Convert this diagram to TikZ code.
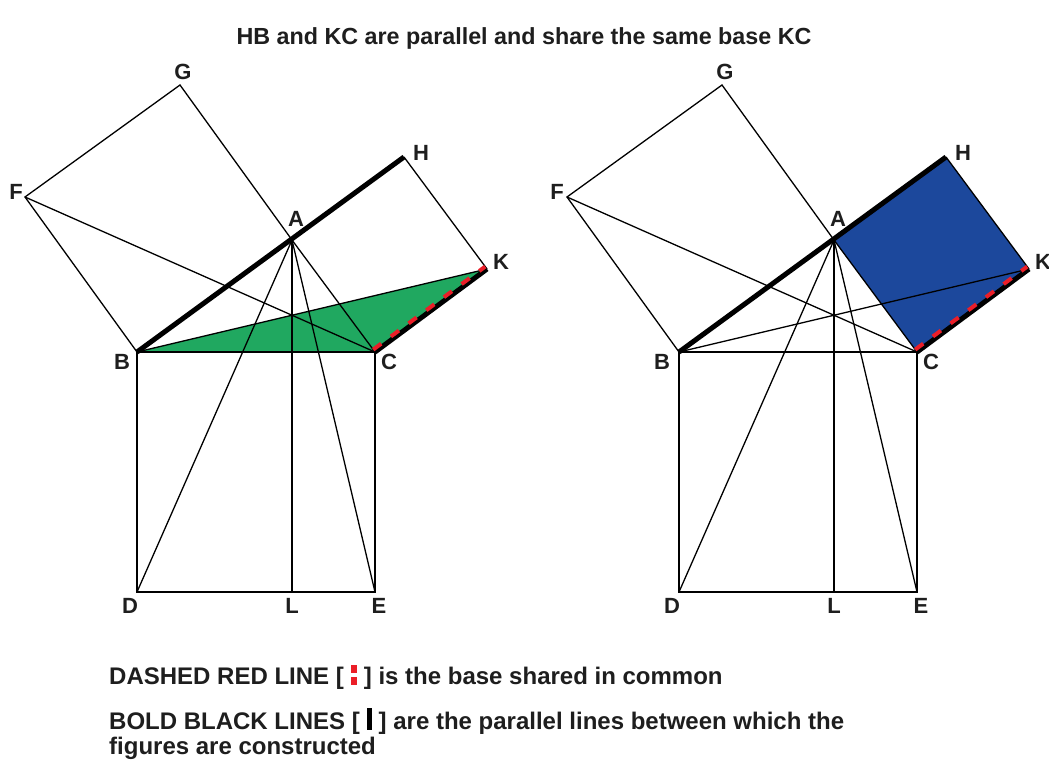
\documentclass[tikz,border=0pt]{standalone}
\usepackage{fontspec}
\setmainfont{Liberation Sans}
\usetikzlibrary{calc}
\definecolor{tgreen}{RGB}{32,168,96}
\definecolor{tblue}{RGB}{28,72,156}
\definecolor{tred}{RGB}{235,30,40}
\definecolor{ttext}{RGB}{30,30,30}
\begin{document}
\begin{tikzpicture}[x=1pt,y=-1pt,
  thin line/.style={line width=1.3pt,draw=black},
  bold line/.style={line width=5pt,draw=black,line cap=butt},
  red dash/.style={line width=4pt,draw=tred,dash pattern=on 10pt off 12pt},
  lbl/.style={font=\bfseries\fontsize{22}{24}\selectfont,text=ttext,inner sep=0pt},
  note/.style={font=\bfseries\fontsize{24}{25}\selectfont,text=ttext,inner sep=0pt,anchor=west,align=left}]
\useasboundingbox (0,0) rectangle (1049,768);
\fill[white] (0,0) rectangle (1049,768);

\node[font=\bfseries\fontsize{23.3}{26}\selectfont,text=ttext] (title) at (524,38) {HB and KC are parallel and share the same base KC};

% ---------- left figure ----------
\begin{scope}
\coordinate (B1) at (137,352);
\coordinate (C1) at (375,352);
\coordinate (A1) at (292,240);
\coordinate (D1) at (137,592);
\coordinate (E1) at (375,592);
\coordinate (L1) at (292,592);
\coordinate (F1) at (25,197);
\coordinate (G1) at (180,85);
\coordinate (H1) at (404,157);
\coordinate (K1) at (487,269);
\fill[tgreen] (B1) -- (K1) -- (C1) -- cycle;
\draw[thin line] (B1) -- (C1) -- (E1) -- (D1) -- cycle;
\draw[thin line] (B1) -- (F1) -- (G1) -- (A1);
\draw[thin line] (H1) -- (K1);
\draw[thin line] (A1) -- (C1);
\draw[thin line] (A1) -- (D1);
\draw[thin line] (A1) -- (E1);
\draw[thin line] (A1) -- (L1);
\draw[thin line] (F1) -- (C1);
\draw[thin line] (B1) -- (K1);
\draw[bold line] (B1) -- (H1);
\draw[bold line] (C1) -- (K1);
\draw[red dash] ($(C1)+(-1.8,-2.4)$) -- ($(K1)+(-1.8,-2.4)$);
\node[lbl] (lA1) at (296,219) {A};
\node[lbl] (lB1) at (122,362) {B};
\node[lbl] (lC1) at (389,362) {C};
\node[lbl] (lD1) at (130,606) {D};
\node[lbl] (lL1) at (292,606) {L};
\node[lbl] (lE1) at (379,606) {E};
\node[lbl] (lF1) at (16,192) {F};
\node[lbl] (lG1) at (183,72) {G};
\node[lbl] (lH1) at (421,153) {H};
\node[lbl] (lK1) at (501,262) {K};
\end{scope}

% ---------- right figure ----------
\begin{scope}[xshift=542pt]
\coordinate (B2) at (137,352);
\coordinate (C2) at (375,352);
\coordinate (A2) at (292,240);
\coordinate (D2) at (137,592);
\coordinate (E2) at (375,592);
\coordinate (L2) at (292,592);
\coordinate (F2) at (25,197);
\coordinate (G2) at (180,85);
\coordinate (H2) at (404,157);
\coordinate (K2) at (487,269);
\fill[tblue] (A2) -- (C2) -- (K2) -- (H2) -- cycle;
\draw[thin line] (B2) -- (C2) -- (E2) -- (D2) -- cycle;
\draw[thin line] (B2) -- (F2) -- (G2) -- (A2);
\draw[thin line] (H2) -- (K2);
\draw[thin line] (A2) -- (C2);
\draw[thin line] (A2) -- (D2);
\draw[thin line] (A2) -- (E2);
\draw[thin line] (A2) -- (L2);
\draw[thin line] (F2) -- (C2);
\draw[thin line] (B2) -- (K2);
\draw[bold line] (B2) -- (H2);
\draw[bold line] (C2) -- (K2);
\draw[red dash] ($(C2)+(-1.8,-2.4)$) -- ($(K2)+(-1.8,-2.4)$);
\node[lbl] (lA2) at (296,219) {A};
\node[lbl] (lB2) at (120,362) {B};
\node[lbl] (lC2) at (389,362) {C};
\node[lbl] (lD2) at (130,606) {D};
\node[lbl] (lL2) at (292,606) {L};
\node[lbl] (lE2) at (379,606) {E};
\node[lbl] (lF2) at (15,192) {F};
\node[lbl] (lG2) at (183,72) {G};
\node[lbl] (lH2) at (421,153) {H};
\node[lbl] (lK2) at (501,262) {K};
\end{scope}

% ---------- notes ----------
\node[note] (n1) at (109,677) {DASHED RED LINE [\hspace{7pt}\tikz[baseline=0pt]{\fill[tred] (0,0) rectangle (6pt,8pt); \fill[tred] (0,12pt) rectangle (6pt,20pt);}\hspace{7pt}] is the base shared in common};
\node[note] (n2) at (109,734) {BOLD BLACK LINES [ \tikz[baseline=-3pt]{\fill[black] (0,-4pt) rectangle (5.5pt,18pt);} ] are the parallel lines between which the\\figures are constructed};
\end{tikzpicture}
\end{document}
